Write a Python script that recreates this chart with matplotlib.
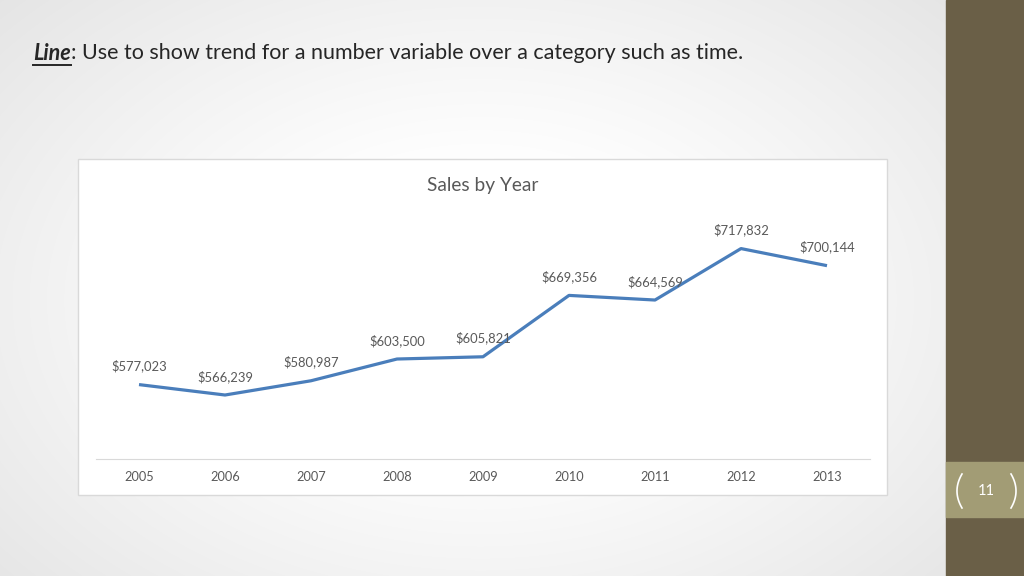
"""Slide 11: line chart of sales by year."""
import numpy as np
import matplotlib
matplotlib.use("Agg")
import matplotlib.pyplot as plt
from matplotlib.patches import Rectangle
from matplotlib.lines import Line2D

years = ["2005", "2006", "2007", "2008", "2009", "2010", "2011", "2012", "2013"]
sales = [577023, 566239, 580987, 603500, 605821, 669356, 664569, 717832, 700144]
chart_title = "Sales by Year"
slide_title = ": Use to show trend for a number variable over a category such as time."
page_no = "11"

FONT = "Lato"
GREY = "#595959"
BLUE = "#4a7ebb"

W, H = 1024, 576
fig = plt.figure(figsize=(W / 100, H / 100), dpi=100)


def fx(px):
    return px / W


def fy(py):
    return 1 - py / H


# slide background: soft radial gradient
bg = fig.add_axes([0, 0, 1, 1], zorder=0)
yy, xx = np.mgrid[0:H, 0:W]
r = np.hypot((xx - 480) / 620, (yy - 300) / 420)
shade = np.clip(1 - 0.14 * np.clip(r - 0.3, 0, None) ** 1.1, 0.86, 1)
bg.imshow(np.dstack([shade, shade, shade]), extent=[0, W, H, 0], aspect="auto")
bg.set_xlim(0, W)
bg.set_ylim(H, 0)
bg.axis("off")

# right side bar and page number box
bg.add_patch(Rectangle((946, 0), 78, H, color="#6a5f47"))
bg.add_patch(Rectangle((946, 462), 78, 55, color="#a29c75"))
t = np.linspace(-1, 1, 40)
bg.plot(957 + 5 * t ** 2, 491 + 17 * t, color="white", lw=1.2)
bg.plot(1016 - 5 * t ** 2, 491 + 17 * t, color="white", lw=1.2)
bg.text(986, 491, page_no, color="white", fontsize=10.5, family=FONT,
        ha="center", va="center")

# chart frame
bg.add_patch(Rectangle((78, 159), 809, 336, facecolor="white",
                       edgecolor="#d9d9d9", lw=1))

# slide title
renderer = fig.canvas.get_renderer()
t1 = fig.text(fx(33), fy(53), "Line", fontsize=15.5, family=FONT,
              weight="bold", style="italic", color="#262626", va="center")
bb = t1.get_window_extent(renderer)
x0, x1 = bb.x0 / W, bb.x1 / W
fig.add_artist(Line2D([x0, x1], [bb.y0 / H - 0.002] * 2, color="#262626", lw=1.4))
fig.text(x1, fy(53), slide_title, fontsize=15.5, family=FONT,
         color="#262626", va="center")

# plot area
ax = fig.add_axes([fx(96), fy(459), fx(870) - fx(96), fy(217.5) - fy(459)], zorder=2)
ax.patch.set_alpha(0)
x = np.arange(len(years))
ax.plot(x, sales, color=BLUE, lw=2.3, solid_capstyle="butt", clip_on=False)
for xi, v in zip(x, sales):
    ax.annotate(f"${v:,}", (xi, v), xytext=(0, 13.5), textcoords="offset points",
                ha="center", va="center", fontsize=9.4, family=FONT, color=GREY)
ax.set_xlim(-0.5, len(years) - 0.5)
ax.set_ylim(500000, 750000)
ax.set_xticks(x)
ax.set_xticklabels(years, family=FONT, fontsize=9.2, color=GREY)
ax.tick_params(axis="x", length=0, pad=8.5)
ax.set_yticks([])
for side in ["left", "right", "top"]:
    ax.spines[side].set_visible(False)
ax.spines["bottom"].set_color("#d9d9d9")

fig.text(fx(483), fy(185), chart_title, fontsize=13.8, family=FONT, color=GREY,
         ha="center", va="center")

fig.savefig("out.png", dpi=100)
plt.close(fig)
